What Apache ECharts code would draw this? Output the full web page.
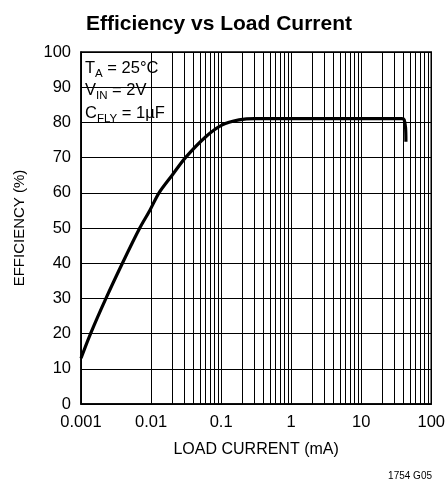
<!DOCTYPE html>
<html>
<head>
<meta charset="utf-8">
<script src="https://cdn.jsdelivr.net/npm/echarts@6/dist/echarts.min.js"></script>
<style>
html,body{margin:0;padding:0;background:#fff;}
#main{width:448px;height:488px;}
</style>
</head>
<body>
<div id="main"></div>
<script>
// Data
const loadCurrent = [0.001, 0.00137, 0.00227, 0.0039, 0.0069, 0.0096, 0.013, 0.02, 0.031, 0.061, 0.104, 0.18, 0.3, 1, 10, 38, 41, 43, 43.5];
const efficiency  = [13, 20, 30, 40, 50, 55, 60, 65, 70, 76, 79.3, 80.7, 81.1, 81.1, 81.1, 81.1, 80.8, 78.5, 74.5];
const xTickLabels = ['0.001', '0.01', '0.1', '1', '10', '100'];
const yTickLabels = ['0', '10', '20', '30', '40', '50', '60', '70', '80', '90', '100'];
const decades = [0.001, 0.01, 0.1, 1, 10];
const minorMultipliers = [2, 3, 4, 5, 6, 7, 8, 9];

const FONT = "'Liberation Sans Narrow', 'Liberation Sans', Arial, sans-serif";

const minorLines = [];
decades.forEach(d => minorMultipliers.forEach(m => minorLines.push({ xAxis: +(d * m).toPrecision(3) })));

const chart = echarts.init(document.getElementById('main'), null, { renderer: 'canvas' });
chart.setOption({
  animation: false,
  backgroundColor: '#fff',
  title: {
    text: 'Efficiency vs Load Current',
    left: 214, top: 9, textAlign: 'center',
    textStyle: { fontFamily: FONT, fontWeight: 'bold', fontSize: 21, color: '#000' }
  },
  grid: { left: 81, right: 15, top: 52, bottom: 84, show: true, borderColor: '#000', borderWidth: 1.5, backgroundColor: 'transparent' },
  xAxis: {
    type: 'log', logBase: 10, min: 0.001, max: 100,
    name: 'LOAD CURRENT (mA)', nameLocation: 'middle', nameGap: 38,
    nameTextStyle: { fontFamily: FONT, fontSize: 16, color: '#000' },
    axisLine: { lineStyle: { color: '#000', width: 1.5 } },
    axisTick: { show: false },
    axisLabel: {
      fontFamily: FONT, fontSize: 16.5, color: '#000', margin: 10,
      formatter: v => { const i = Math.round(Math.log10(v) + 3); return xTickLabels[i] !== undefined ? xTickLabels[i] : ''; }
    },
    splitLine: { show: true, lineStyle: { color: '#000', width: 1 } }
  },
  yAxis: {
    type: 'value', min: 0, max: 100, interval: 10,
    name: 'EFFICIENCY (%)', nameLocation: 'middle', nameGap: 54, nameRotate: 90,
    nameTextStyle: { fontFamily: FONT, fontSize: 15, color: '#000' },
    axisLine: { show: true, lineStyle: { color: '#000', width: 1.5 } },
    axisTick: { show: false },
    axisLabel: {
      fontFamily: FONT, fontSize: 16.5, color: '#000', margin: 10,
      formatter: v => yTickLabels[Math.round(v / 10)]
    },
    splitLine: { show: true, lineStyle: { color: '#000', width: 1.2 } }
  },
  series: [{
    type: 'line',
    data: loadCurrent.map((x, i) => [x, efficiency[i]]),
    showSymbol: false,
    smooth: 0.3,
    lineStyle: { color: '#000', width: 3.2 },
    z: 5,
    markLine: {
      silent: true, symbol: 'none', animation: false,
      label: { show: false },
      lineStyle: { color: '#000', width: 1, type: 'solid' },
      data: minorLines
    }
  }],
  graphic: [
    {
      type: 'group', left: 82, top: 53, z: 100,
      children: [
        { type: 'rect', shape: { x: 0, y: 0, width: 92, height: 73 }, style: { fill: '#fff' } },
        {
          type: 'text', x: 3, y: 4,
          style: {
            text: '{m|T}{s|A}{m| = 25°C}\n{m|V}{s|IN}{m| = 2V}\n{m|C}{s|FLY}{m| = 1µF}',
            rich: {
              m: { fontFamily: FONT, fontSize: 16.5, color: '#000', lineHeight: 22.5 },
              s: { fontFamily: FONT, fontSize: 11.5, color: '#000', lineHeight: 8, verticalAlign: 'bottom' }
            }
          }
        }
      ]
    },
    {
      type: 'text', right: 16, top: 471,
      style: { text: '1754 G05', fontFamily: "'Liberation Sans', Arial, sans-serif", fontSize: 10, fill: '#000' }
    }
  ]
});
</script>
</body>
</html>
